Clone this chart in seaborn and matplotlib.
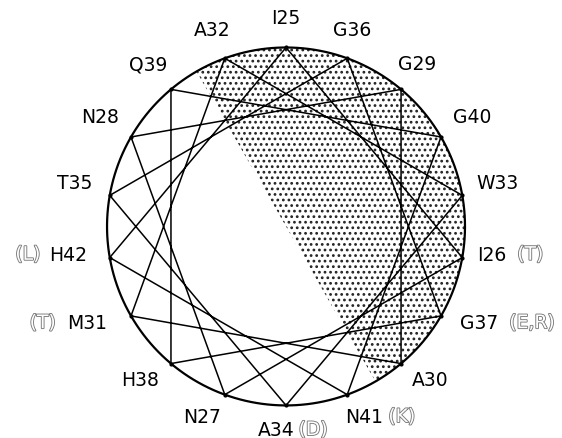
import numpy as np
import pandas as pd
import seaborn as sns
import matplotlib.pyplot as plt
from matplotlib import patheffects as pe

# residues of the helix, in sequence order (25 -> 42)
residues = ["I25", "I26", "N27", "N28", "G29", "A30", "M31", "A32", "W33",
            "A34", "T35", "G36", "G37", "H38", "Q39", "G40", "N41", "H42"]
step_deg = 100          # helical wheel: 100 degrees per residue
face_start, face_end = -30, 150   # shaded (hydrophobic) face, degrees clockwise from top

# substitutions shown next to some residues
subs = {"I26": "(T)", "G37": "(E,R)", "N41": "(K)", "A34": "(D)",
        "H42": "(L)", "M31": "(T)"}

# layout tweaks (pixels / points)
label_dx = {"A34": -10, "N27": -10, "M31": -13, "H38": -8, "G36": -7,
            "G29": -7, "G37": 7, "A30": 6, "I26": -6, "H42": -6, "N41": 5}
sub_gap = {"I26": 8, "G37": 8, "N41": 3.5, "A34": 3, "H42": 6.5, "M31": 8}

theta = np.deg2rad(np.arange(len(residues)) * step_deg)
wheel = pd.DataFrame({"residue": residues,
                      "x": np.sin(theta),
                      "y": np.cos(theta)})
# close the loop back to the first residue
loop = pd.concat([wheel, wheel.iloc[:1]], ignore_index=True)

sns.set_style("white")
plt.rcParams["font.family"] = ["DejaVu Sans"]
plt.rcParams["hatch.linewidth"] = 1.2

fig = plt.figure(figsize=(5.62, 4.39), dpi=100)
ax = fig.add_axes([0, 0, 1, 1])
ax.set_xlim(-1.598, 1.542)
ax.set_ylim(-1.182, 1.271)
ax.axis("off")

# shaded half of the wheel
t = np.deg2rad(np.linspace(face_start, face_end, 200))
ax.fill(np.sin(t), np.cos(t), facecolor="white", edgecolor="#222222",
        hatch="...", linewidth=0, zorder=1)

# chords joining consecutive residues
sns.lineplot(data=loop, x="x", y="y", sort=False, estimator=None,
             color="black", linewidth=1.1, ax=ax, zorder=2)
ax.scatter(wheel["x"], wheel["y"], s=4, color="black", zorder=3)

# outer circle
c = np.linspace(0, 2 * np.pi, 400)
ax.plot(np.sin(c), np.cos(c), color="black", linewidth=1.6, zorder=3)

to_px = 179.0
for res, th in zip(residues, theta):
    s, co = np.sin(th), np.cos(th)
    lx = 1.2 * s + label_dx.get(res, 0) / to_px
    ly = 1.15 * co + 0.045 - 0.03 * co ** 2
    txt = ax.text(lx, ly, res, ha="center", va="center", fontsize=13.5,
                  color="black")
    if res in subs:
        left = s < 0
        ax.annotate(subs[res], xy=(0 if left else 1, 0.5), xycoords=txt,
                    xytext=(-sub_gap[res] if left else sub_gap[res], 0),
                    textcoords="offset points",
                    ha="right" if left else "left", va="center",
                    fontsize=13.5, color="white",
                    path_effects=[pe.withStroke(linewidth=1.3, foreground="#7a7a7a")])

ax.set_xlabel("")
ax.set_ylabel("")
fig.savefig("out.png", dpi=100)
